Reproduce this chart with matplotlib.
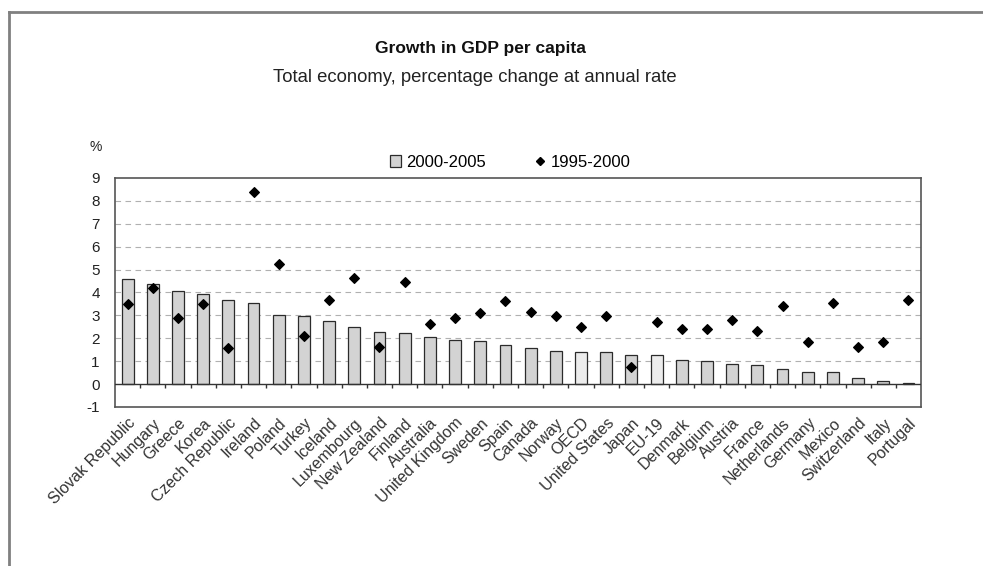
#!/usr/bin/env python3
# Growth in GDP per capita: bars for 2000-2005, diamonds for 1995-2000

import numpy as np
import matplotlib
matplotlib.use("Agg")
import matplotlib.pyplot as plt
from matplotlib.lines import Line2D
from matplotlib.patches import Patch

plt.rcParams['font.family'] = ['Liberation Sans', 'DejaVu Sans']
plt.rcParams['axes.unicode_minus'] = False

# --- DATA ---
countries = [
    "Slovak Republic", "Hungary", "Greece", "Korea", "Czech Republic", "Ireland",
    "Poland", "Turkey", "Iceland", "Luxembourg", "New Zealand", "Finland",
    "Australia", "United Kingdom", "Sweden", "Spain", "Canada", "Norway", "OECD",
    "United States", "Japan", "EU-19", "Denmark", "Belgium", "Austria", "France",
    "Netherlands", "Germany", "Mexico", "Switzerland", "Italy", "Portugal",
]
growth_2000_2005 = [
    4.60, 4.38, 4.05, 3.93, 3.66, 3.54, 3.00, 2.95, 2.76, 2.50, 2.28, 2.22,
    2.06, 1.93, 1.89, 1.72, 1.57, 1.45, 1.38, 1.38, 1.28, 1.28, 1.06, 0.99,
    0.89, 0.84, 0.65, 0.54, 0.51, 0.26, 0.15, 0.03,
]
growth_1995_2000 = [
    3.51, 4.21, 2.87, 3.50, 1.57, 8.39, 5.25, 2.08, 3.67, 4.64, 1.63, 4.46,
    2.64, 2.87, 3.12, 3.61, 3.16, 2.95, 2.50, 2.95, 0.73, 2.71, 2.42, 2.42,
    2.79, 2.32, 3.40, 1.84, 3.56, 1.63, 1.84, 3.69,
]
aggregates = ["OECD", "EU-19"]
yticks = list(range(-1, 10))

# --- STYLE ---
BAR_GRAY = "#d3d3d3"
BAR_LIGHT = "#ececec"
EDGE = "#2b2b2b"

fig = plt.figure(figsize=(9.83, 5.66), dpi=100)
ax = fig.add_axes([0.117, 0.281, 0.820, 0.4046])

x = np.arange(len(countries))
colors = [BAR_LIGHT if c in aggregates else BAR_GRAY for c in countries]
ax.bar(x, growth_2000_2005, width=0.47, color=colors, edgecolor=EDGE,
       linewidth=0.9, zorder=3)
ax.scatter(x, growth_1995_2000, marker="D", s=24, color="black", zorder=4)

ax.set_xlim(-0.5, len(countries) - 0.5)
ax.set_ylim(-1, 9)
ax.set_yticks(yticks)
ax.tick_params(axis="y", length=0, pad=11, labelsize=11, colors="#222222")

# dashed grid lines (not at 0, -1 or top)
for v in yticks:
    if 0 < v < 9:
        ax.axhline(v, color="#b0b0b0", lw=0.8, ls=(0, (5, 4)), zorder=1)
ax.axhline(0, color="#333333", lw=1.0, zorder=5)
# category tick marks under the zero line
ax.vlines(x[:-1] + 0.5, -0.17, 0, color="#333333", lw=1.0, zorder=5)

ax.set_xticks(x)
ax.set_xticklabels(countries, rotation=45, ha="right", rotation_mode="anchor",
                   fontsize=11.5, color="#333333")
ax.tick_params(axis="x", length=0, pad=6)

for s in ax.spines.values():
    s.set_color("#555555")
    s.set_linewidth(1.2)

# titles and unit label
fig.text(0.489, 0.914, "Growth in GDP per capita", ha="center", va="center",
         fontsize=12.5, fontweight="bold", color="#111111")
fig.text(0.483, 0.8625, "Total economy, percentage change at annual rate",
         ha="center", va="center", fontsize=13.3, color="#222222")
fig.text(0.097, 0.740, "%", ha="center", va="center", fontsize=10,
         color="#222222")

handles = [
    Patch(facecolor=BAR_GRAY, edgecolor=EDGE, linewidth=0.9, label="2000-2005"),
    Line2D([], [], marker="D", color="black", ls="none", markersize=4,
           label="1995-2000"),
]
fig.legend(handles=handles, loc="center", bbox_to_anchor=(0.519, 0.713),
           ncol=2, frameon=False, fontsize=12, handlelength=0.7,
           handletextpad=0.3, columnspacing=2.9, handleheight=0.7)

# outer frame of the original screenshot
fig.add_artist(Line2D([0.009, 0.009], [0.0, 0.979], transform=fig.transFigure,
                      color="#808080", lw=2))
fig.add_artist(Line2D([0.009, 1.0], [0.979, 0.979], transform=fig.transFigure,
                      color="#808080", lw=2))

fig.savefig("out.png", dpi=100)
